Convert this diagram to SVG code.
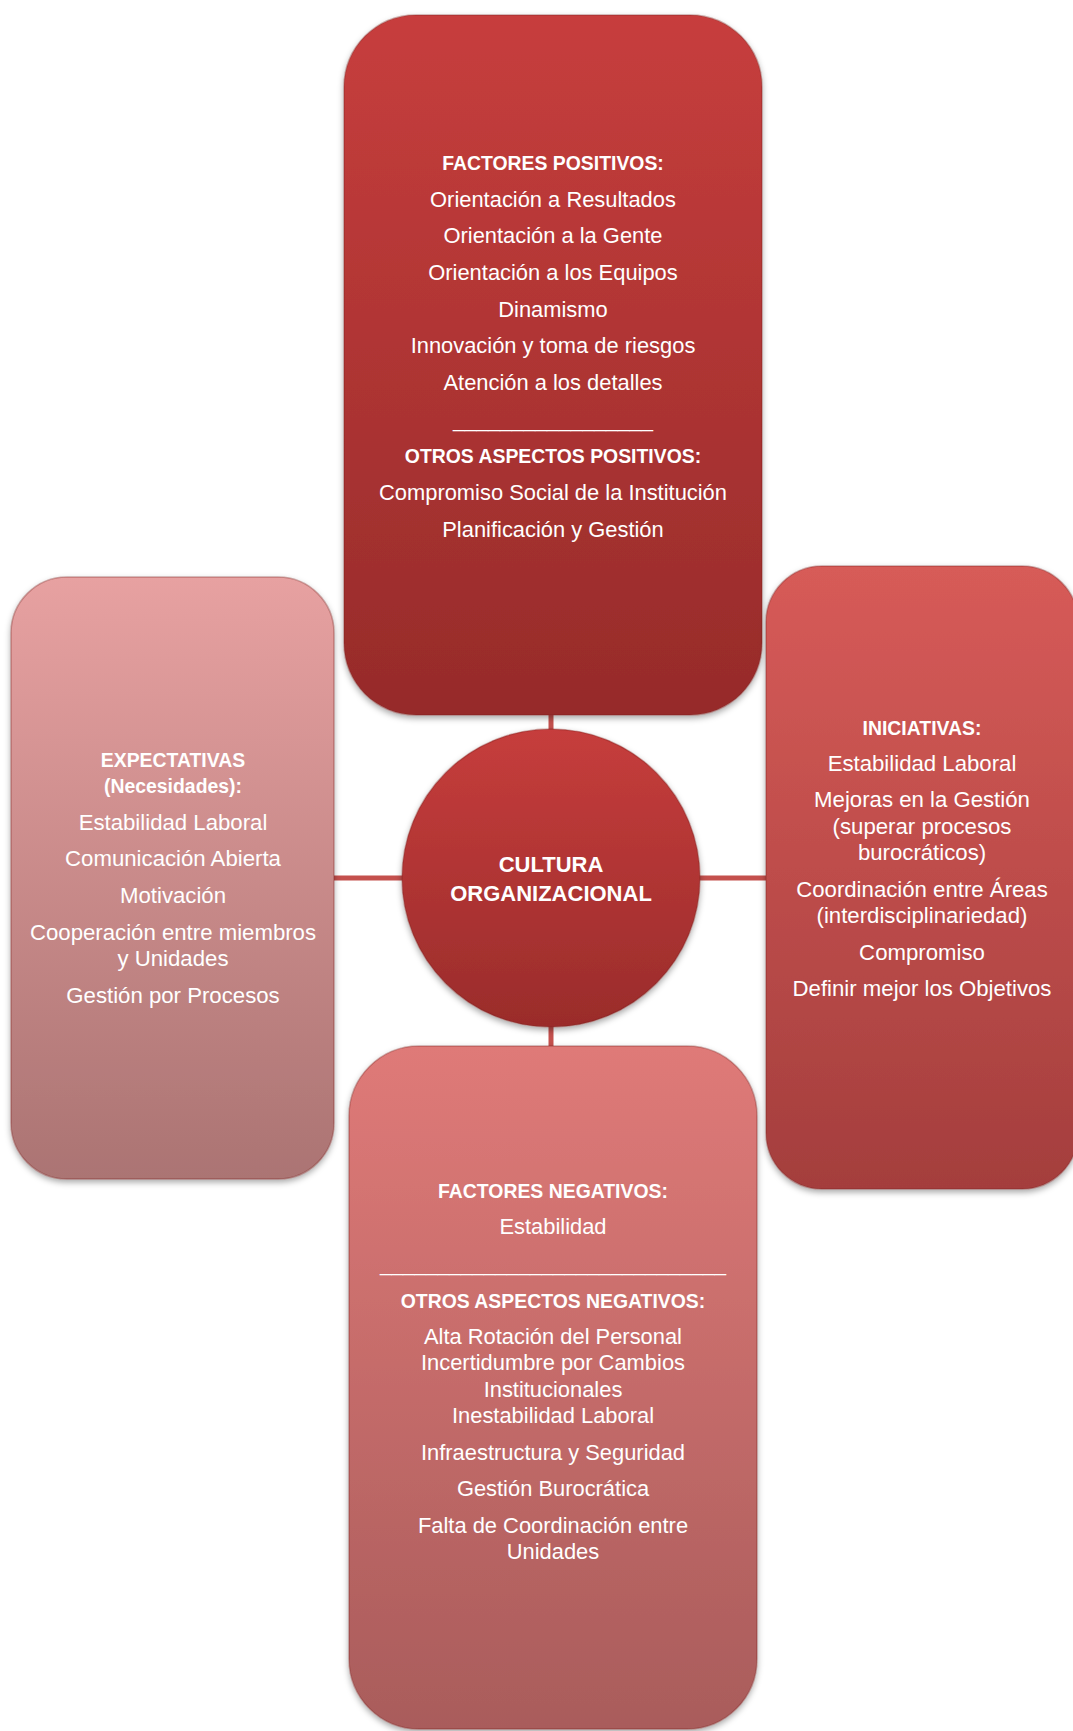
<svg xmlns="http://www.w3.org/2000/svg" width="1073" height="1731" viewBox="0 0 1073 1731">
<style>
  .t { font-family: "Liberation Sans", Arial, sans-serif; font-size: 21.9px; fill: #ffffff; text-anchor: middle; }
  .s { font-size: 22.2px; }
  .b { font-family: "Liberation Sans", Arial, sans-serif; font-size: 19.4px; font-weight: bold; fill: #ffffff; text-anchor: middle; }
  .c { font-family: "Liberation Sans", Arial, sans-serif; font-size: 22px; font-weight: bold; fill: #ffffff; text-anchor: middle; }
  .conn { stroke: #c4504d; stroke-width: 5; fill: none; }
  .edge { stroke: #7a1f1e; stroke-opacity: 0.35; stroke-width: 1.5; }
</style>
<defs>
  <linearGradient id="gTop" x1="0" y1="0" x2="0" y2="1">
    <stop offset="0" stop-color="#c73e3d"/>
    <stop offset="1" stop-color="#962b2a"/>
  </linearGradient>
  <linearGradient id="gCircle" x1="0" y1="0" x2="0" y2="1">
    <stop offset="0" stop-color="#c63d3c"/>
    <stop offset="1" stop-color="#9a2c2b"/>
  </linearGradient>
  <linearGradient id="gLeft" x1="0" y1="0" x2="0" y2="1">
    <stop offset="0" stop-color="#e7a1a1"/>
    <stop offset="1" stop-color="#ab7473"/>
  </linearGradient>
  <linearGradient id="gRight" x1="0" y1="0" x2="0" y2="1">
    <stop offset="0" stop-color="#d75b58"/>
    <stop offset="1" stop-color="#a43e3d"/>
  </linearGradient>
  <linearGradient id="gBottom" x1="0" y1="0" x2="0" y2="1">
    <stop offset="0" stop-color="#df7a78"/>
    <stop offset="1" stop-color="#a95c5b"/>
  </linearGradient>
  <filter id="sh" x="-10%" y="-10%" width="120%" height="120%">
    <feDropShadow dx="0" dy="3" stdDeviation="3" flood-color="#000000" flood-opacity="0.35"/>
  </filter>
</defs>
<rect x="0" y="0" width="1073" height="1731" fill="#ffffff"/>

<g id="connectors">
  <line class="conn" x1="551" y1="712" x2="551" y2="732"/>
  <line class="conn" x1="330" y1="878" x2="404" y2="878"/>
  <line class="conn" x1="697" y1="878" x2="770" y2="878"/>
  <line class="conn" x1="551" y1="1024" x2="551" y2="1050"/>
</g>

<g id="node-positivos">
  <rect class="edge" x="344" y="15" width="418" height="700" rx="72" ry="72" fill="url(#gTop)" filter="url(#sh)"/>
  <text class="b" x="553" y="170">FACTORES POSITIVOS:</text>
  <text class="t" x="553" y="207">Orientación a Resultados</text>
  <text class="t" x="553" y="243">Orientación a la Gente</text>
  <text class="t" x="553" y="280">Orientación a los Equipos</text>
  <text class="t" x="553" y="317">Dinamismo</text>
  <text class="t" x="553" y="353">Innovación y toma de riesgos</text>
  <text class="t" x="553" y="390">Atención a los detalles</text>
  <text class="t" x="553" y="427" textLength="200" lengthAdjust="spacingAndGlyphs">_________________</text>
  <text class="b" x="553" y="463">OTROS ASPECTOS POSITIVOS:</text>
  <text class="t" x="553" y="500">Compromiso Social de la Institución</text>
  <text class="t" x="553" y="537">Planificación y Gestión</text>
</g>

<g id="node-expectativas">
  <rect class="edge" x="11" y="577" width="323" height="602" rx="56" ry="56" fill="url(#gLeft)" filter="url(#sh)"/>
  <text class="b" x="173" y="767">EXPECTATIVAS</text>
  <text class="b" x="173" y="793">(Necesidades):</text>
  <text class="t s" x="173" y="830">Estabilidad Laboral</text>
  <text class="t s" x="173" y="866">Comunicación Abierta</text>
  <text class="t s" x="173" y="903">Motivación</text>
  <text class="t s" x="173" y="940">Cooperación entre miembros</text>
  <text class="t s" x="173" y="966">y Unidades</text>
  <text class="t s" x="173" y="1003">Gestión por Procesos</text>
</g>

<g id="node-iniciativas">
  <rect class="edge" x="766" y="566" width="312" height="623" rx="56" ry="56" fill="url(#gRight)" filter="url(#sh)"/>
  <text class="b" x="922" y="735">INICIATIVAS:</text>
  <text class="t s" x="922" y="771">Estabilidad Laboral</text>
  <text class="t s" x="922" y="807">Mejoras en la Gestión</text>
  <text class="t s" x="922" y="834">(superar procesos</text>
  <text class="t s" x="922" y="860">burocráticos)</text>
  <text class="t s" x="922" y="897">Coordinación entre Áreas</text>
  <text class="t s" x="922" y="923">(interdisciplinariedad)</text>
  <text class="t s" x="922" y="960">Compromiso</text>
  <text class="t s" x="922" y="996">Definir mejor los Objetivos</text>
</g>

<g id="node-negativos">
  <rect class="edge" x="349" y="1046" width="408" height="683" rx="70" ry="70" fill="url(#gBottom)" filter="url(#sh)"/>
  <text class="b" x="553" y="1198">FACTORES NEGATIVOS:</text>
  <text class="t" x="553" y="1234">Estabilidad</text>
  <text class="t" x="553" y="1271" textLength="346" lengthAdjust="spacingAndGlyphs">______________________________</text>
  <text class="b" x="553" y="1308">OTROS ASPECTOS NEGATIVOS:</text>
  <text class="t" x="553" y="1344">Alta Rotación del Personal</text>
  <text class="t" x="553" y="1370">Incertidumbre por Cambios</text>
  <text class="t" x="553" y="1397">Institucionales</text>
  <text class="t" x="553" y="1423">Inestabilidad Laboral</text>
  <text class="t" x="553" y="1460">Infraestructura y Seguridad</text>
  <text class="t" x="553" y="1496">Gestión Burocrática</text>
  <text class="t" x="553" y="1533">Falta de Coordinación entre</text>
  <text class="t" x="553" y="1559">Unidades</text>
</g>

<g id="node-cultura">
  <circle class="edge" cx="551" cy="878" r="149" fill="url(#gCircle)" filter="url(#sh)"/>
  <text class="c" x="551" y="872">CULTURA</text>
  <text class="c" x="551" y="901">ORGANIZACIONAL</text>
</g>
</svg>
